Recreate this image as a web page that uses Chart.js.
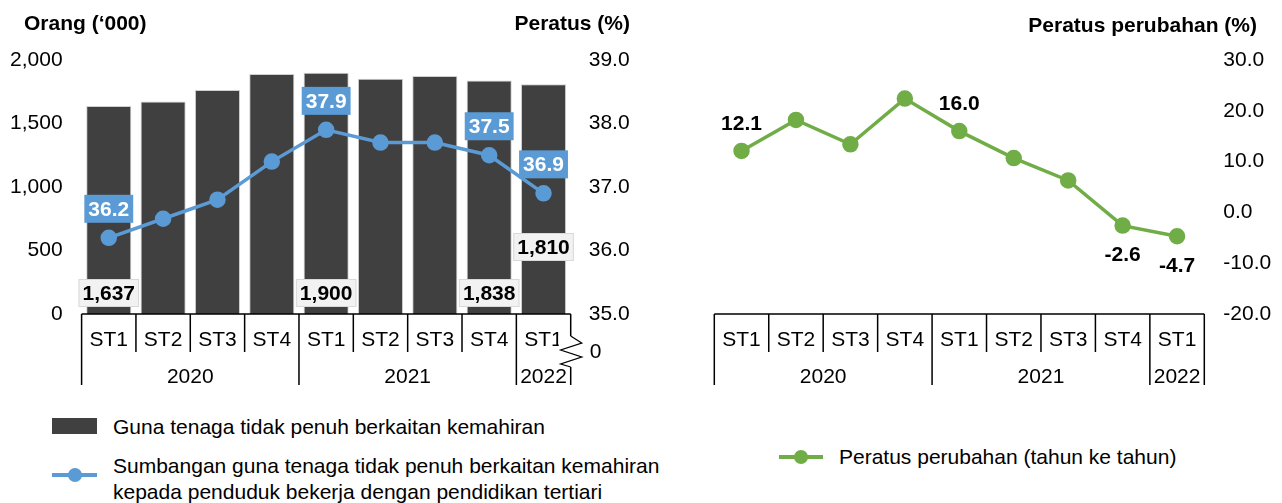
<!DOCTYPE html>
<html>
<head>
<meta charset="utf-8">
<script src="https://cdn.jsdelivr.net/npm/chart.js@4.4.1/dist/chart.umd.min.js"></script>
<style>
  body { margin: 0; background: #fff; font-family: "Liberation Sans", Arial, sans-serif; color: #000; }
  .box { position: absolute; }
  .title { position: absolute; font-weight: bold; font-size: 21px; line-height: 24px; white-space: nowrap; }
  .leg { position: absolute; font-size: 21px; line-height: 26px; white-space: nowrap; }
  .swatch { position: absolute; background: #404040; }
  .lline { position: absolute; height: 4px; }
  .ldot { position: absolute; width: 14px; height: 14px; border-radius: 50%; }
</style>
</head>
<body>
<div class="box" style="left:0;top:0;width:640px;height:400px"><canvas id="leftChart"></canvas></div>
<div class="box" style="left:640px;top:0;width:642px;height:400px"><canvas id="rightChart"></canvas></div>

<div class="title" style="left:24px;top:11px">Orang (‘000)</div>
<div class="title" style="right:652px;top:11px">Peratus (%)</div>
<div class="title" style="right:25px;top:13px">Peratus perubahan (%)</div>

<!-- left legend -->
<div class="swatch" style="left:52px;top:418px;width:45px;height:16px"></div>
<div class="leg" style="left:113px;top:414px">Guna tenaga tidak penuh berkaitan kemahiran</div>
<div class="lline" style="left:52px;top:473px;width:45px;background:#5B9BD5"></div>
<div class="ldot" style="left:68px;top:468px;background:#5B9BD5"></div>
<div class="leg" style="left:113px;top:453px">Sumbangan guna tenaga tidak penuh berkaitan kemahiran<br>kepada penduduk bekerja dengan pendidikan tertiari</div>

<!-- right legend -->
<div class="lline" style="left:779px;top:455px;width:44px;background:#70AD47"></div>
<div class="ldot" style="left:794px;top:450px;background:#70AD47"></div>
<div class="leg" style="left:839px;top:444px">Peratus perubahan (tahun ke tahun)</div>

<script>
// categories
const quarters = ['ST1', 'ST2', 'ST3', 'ST4', 'ST1', 'ST2', 'ST3', 'ST4', 'ST1'];
const years = ['2020', '2021', '2022'];
const yearSpans = [4, 4, 1];

// left chart: persons ('000) and share (%)
const underemployed = [1637, 1673, 1763, 1889, 1900, 1852, 1874, 1838, 1810];
const shareTertiary = [36.2, 36.5, 36.8, 37.4, 37.9, 37.7, 37.7, 37.5, 36.9];
const labelledIdx = [0, 4, 7, 8];

// right chart: year-on-year change (%)
const yoyChange = [12.1, 18.2, 13.4, 22.4, 16.0, 10.7, 6.3, -2.6, -4.7];

// axis ranges
const personsTicks = { min: 0, max: 2000, step: 500 };
const shareTicks = { min: 35, max: 39, step: 1 };
const changeTicks = { min: -20, max: 30, step: 10 };

const FONT = '"Liberation Sans", Arial, sans-serif';
Chart.defaults.font.family = FONT;
Chart.defaults.font.size = 21;
Chart.defaults.color = '#000';

const BLUE = '#5B9BD5', GREEN = '#70AD47', DARK = '#404040';

function fixedWidth(w) {
  return scale => { scale.width = w; };
}

// two-level category axis drawn under the plot
const groupAxis = {
  id: 'groupAxis',
  afterDraw(chart, args, opts) {
    const { ctx, chartArea: a } = chart;
    const xs = chart.scales.x;
    const n = quarters.length;
    const w = (a.right - a.left) / n;
    const edges = [0];
    yearSpans.forEach(s => edges.push(edges[edges.length - 1] + s));

    ctx.save();
    ctx.strokeStyle = '#000';
    ctx.lineWidth = 1.5;
    ctx.beginPath();
    ctx.moveTo(a.left, a.bottom);
    ctx.lineTo(a.right, a.bottom);
    for (let i = 0; i <= n; i++) {
      const px = a.left + i * w;
      ctx.moveTo(px, a.bottom);
      ctx.lineTo(px, a.bottom + (edges.includes(i) ? 71 : 38));
    }
    ctx.stroke();

    ctx.fillStyle = '#000';
    ctx.font = '21px ' + FONT;
    ctx.textAlign = 'center';
    ctx.textBaseline = 'middle';
    quarters.forEach((q, i) => ctx.fillText(q, xs.getPixelForValue(i), a.bottom + 26));
    years.forEach((y, k) => {
      const cx = a.left + (edges[k] + edges[k + 1]) / 2 * w;
      ctx.fillText(y, cx, a.bottom + 63);
    });

    if (opts.axisBreak) {
      const R = a.right, b = a.bottom;
      ctx.fillStyle = '#fff';
      ctx.fillRect(R - 12, b + 22, 25, 31);
      ctx.beginPath();
      ctx.lineWidth = 1.3;
      ctx.moveTo(R, b + 22);
      ctx.lineTo(R + 11, b + 29);
      ctx.lineTo(R - 10, b + 36);
      ctx.lineTo(R + 11, b + 43);
      ctx.lineTo(R - 10, b + 50);
      ctx.lineTo(R, b + 53);
      ctx.stroke();
      ctx.fillStyle = '#000';
      ctx.textAlign = 'left';
      ctx.fillText('0', R + 19, b + 38);
    }
    ctx.restore();
  }
};

function labelBox(ctx, x, y, text, fill, stroke, color) {
  const w = ctx.measureText(text).width + 8, h = 28;
  ctx.fillStyle = fill;
  ctx.fillRect(x - w / 2, y - h / 2, w, h);
  if (stroke) {
    ctx.strokeStyle = stroke;
    ctx.lineWidth = 1;
    ctx.strokeRect(x - w / 2 + 0.5, y - h / 2 + 0.5, w - 1, h - 1);
  }
  ctx.fillStyle = color;
  ctx.fillText(text, x, y + 1);
}

const leftLabels = {
  id: 'leftLabels',
  afterDatasetsDraw(chart) {
    const ctx = chart.ctx;
    const bars = chart.getDatasetMeta(0).data;
    const pts = chart.getDatasetMeta(1).data;
    const base = chart.scales.y.getPixelForValue(0);
    ctx.save();
    ctx.font = 'bold 21px ' + FONT;
    ctx.textAlign = 'center';
    ctx.textBaseline = 'middle';
    labelledIdx.forEach(i => {
      const lift = i === 8 ? 67 : 21;
      labelBox(ctx, bars[i].x, base - lift, underemployed[i].toLocaleString('en-US'), '#f2f2f2', '#d9d9d9', '#000');
      labelBox(ctx, pts[i].x, pts[i].y - 29, shareTertiary[i].toFixed(1), BLUE, null, '#fff');
    });
    ctx.restore();
  }
};

const rightLabels = {
  id: 'rightLabels',
  afterDatasetsDraw(chart) {
    const ctx = chart.ctx;
    const pts = chart.getDatasetMeta(0).data;
    ctx.save();
    ctx.font = 'bold 21px ' + FONT;
    ctx.textAlign = 'center';
    ctx.textBaseline = 'middle';
    ctx.fillStyle = '#000';
    labelledIdx.forEach(i => {
      const dy = yoyChange[i] < 0 ? 30 : -27;
      ctx.fillText(yoyChange[i].toFixed(1), pts[i].x, pts[i].y + dy);
    });
    ctx.restore();
  }
};

new Chart(document.getElementById('leftChart'), {
  type: 'bar',
  data: {
    labels: quarters,
    datasets: [
      {
        type: 'bar',
        data: underemployed,
        yAxisID: 'y',
        backgroundColor: DARK,
        borderColor: '#cfcfcf',
        borderWidth: 1,
        categoryPercentage: 1,
        barPercentage: 0.83,
        order: 2
      },
      {
        type: 'line',
        data: shareTertiary,
        yAxisID: 'y1',
        borderColor: BLUE,
        backgroundColor: BLUE,
        borderWidth: 3.5,
        pointRadius: 6.5,
        pointHoverRadius: 6.5,
        tension: 0,
        order: 1
      }
    ]
  },
  options: {
    responsive: true,
    maintainAspectRatio: false,
    animation: false,
    layout: { padding: { top: 60, bottom: 86, left: 0, right: 0 } },
    plugins: { legend: { display: false }, tooltip: { enabled: false }, groupAxis: { axisBreak: true } },
    scales: {
      x: { display: false, offset: true },
      y: {
        position: 'left',
        min: personsTicks.min, max: personsTicks.max,
        ticks: { stepSize: personsTicks.step, padding: 19, callback: v => v.toLocaleString('en-US') },
        grid: { display: false, drawTicks: false },
        border: { display: false },
        afterFit: fixedWidth(81.6)
      },
      y1: {
        position: 'right',
        min: shareTicks.min, max: shareTicks.max,
        ticks: { stepSize: shareTicks.step, padding: 18, callback: v => v.toFixed(1) },
        grid: { display: false, drawTicks: false },
        border: { display: false },
        afterFit: fixedWidth(69.3)
      }
    }
  },
  plugins: [groupAxis, leftLabels]
});

new Chart(document.getElementById('rightChart'), {
  type: 'line',
  data: {
    labels: quarters,
    datasets: [{
      data: yoyChange,
      borderColor: GREEN,
      backgroundColor: GREEN,
      borderWidth: 3.5,
      pointRadius: 6.5,
      pointHoverRadius: 6.5,
      tension: 0
    }]
  },
  options: {
    responsive: true,
    maintainAspectRatio: false,
    animation: false,
    layout: { padding: { top: 60, bottom: 86, left: 74.3, right: 0 } },
    plugins: { legend: { display: false }, tooltip: { enabled: false }, groupAxis: { axisBreak: false } },
    scales: {
      x: { display: false, offset: true },
      y: {
        position: 'right',
        min: changeTicks.min, max: changeTicks.max,
        ticks: { stepSize: changeTicks.step, padding: 19, callback: v => v.toFixed(1) },
        grid: { display: false, drawTicks: false },
        border: { display: false },
        afterFit: fixedWidth(77.7)
      }
    }
  },
  plugins: [groupAxis, rightLabels]
});
</script>
</body>
</html>
